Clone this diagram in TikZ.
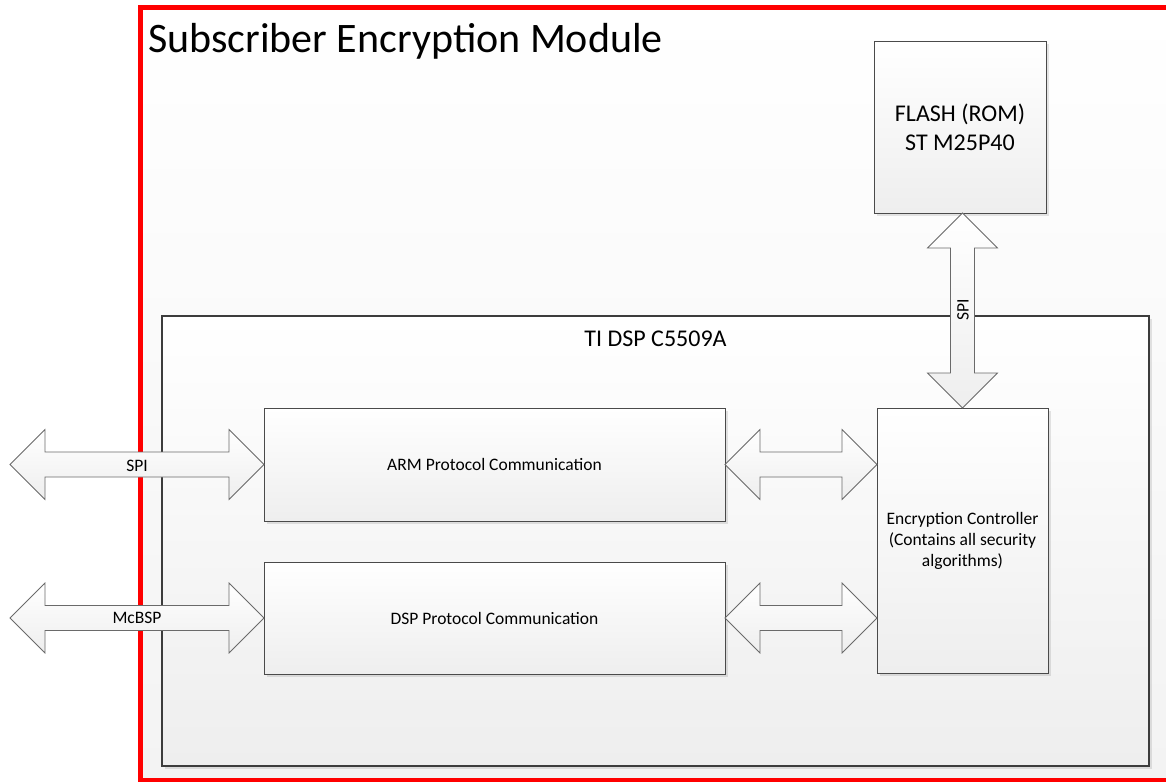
\documentclass[tikz,border=0pt]{standalone}
\usepackage{fontspec}
\setmainfont{Carlito}
\usetikzlibrary{calc,shadows}
\definecolor{boxln}{HTML}{4A4A4A}
\definecolor{dspln}{HTML}{3C3C3C}
\definecolor{arln}{HTML}{6A6A6A}
\definecolor{shadeb}{HTML}{EEEEEE}
\definecolor{outb}{HTML}{F3F3F3}
\tikzset{
 blk/.style={draw=boxln, line width=1pt, top color=white, bottom color=shadeb, inner sep=0pt, outer sep=0pt, align=center,
   font=\fontsize{17.5}{21}\selectfont,
   drop shadow={shadow xshift=2.5pt, shadow yshift=-2.5pt, fill=black, opacity=0.10}},
 fatar/.style={draw=arln, line width=0.8pt, top color=white, bottom color=shadeb},
 arlbl/.style={font=\fontsize{17.5}{21}\selectfont, inner sep=0pt},
}
\newcommand\harrow[2]{%
 \path[fatar] let \p1=(#1), \p2=(#2) in
 (\x1,\y1) -- (\x1+35pt,\y1+35pt) -- (\x1+35pt,\y1+12.5pt) -- (\x2-35pt,\y1+12.5pt) -- (\x2-35pt,\y1+35pt) -- (\x2,\y1)
 -- (\x2-35pt,\y1-35pt) -- (\x2-35pt,\y1-12.5pt) -- (\x1+35pt,\y1-12.5pt) -- (\x1+35pt,\y1-35pt) -- cycle;}
\newcommand\varrow[2]{%
 \path[fatar] let \p1=(#1), \p2=(#2) in
 (\x1,\y1) -- (\x1+35pt,\y1-35pt) -- (\x1+12pt,\y1-35pt) -- (\x1+12pt,\y2+35pt) -- (\x1+35pt,\y2+35pt) -- (\x1,\y2)
 -- (\x1-35pt,\y2+35pt) -- (\x1-12pt,\y2+35pt) -- (\x1-12pt,\y1-35pt) -- (\x1-35pt,\y1-35pt) -- cycle;}
\begin{document}
\begin{tikzpicture}[x=1pt,y=-1pt]
\useasboundingbox (0,0) rectangle (1166,781);
\clip (0,0) rectangle (1166,781);
% module
\node[draw=red, line width=5pt, top color=white, bottom color=outb, inner sep=0pt, outer sep=0pt,
      minimum width=1027.5pt, minimum height=772.5pt] (module) at (654.25,393.75) {};
\node[anchor=base west, inner sep=0pt, font=\fontsize{42}{50}\selectfont] (title) at (148,53) {Subscriber Encryption Module};
% chip
\node[draw=dspln, line width=2.5pt, top color=white, bottom color=shadeb, inner sep=0pt, outer sep=0pt,
      minimum width=987pt, minimum height=450pt,
      drop shadow={shadow xshift=2.5pt, shadow yshift=-2.5pt, fill=black, opacity=0.10}] (chip) at (655.5,541) {};
\node[anchor=base, inner sep=0pt, font=\fontsize{24}{29}\selectfont] (chiplbl) at (655.5,346) {TI DSP C5509A};
% blocks
\node[blk, minimum width=172pt, minimum height=171pt, font=\fontsize{24}{29}\selectfont] (flash) at (960,127.5) {FLASH (ROM)\\ST M25P40};
\node[blk, minimum width=461pt, minimum height=113pt] (arm) at (494.5,464.5) {ARM Protocol Communication};
\node[blk, minimum width=461pt, minimum height=112pt] (dspc) at (494.5,618) {DSP Protocol Communication};
\node[blk, minimum width=171pt, minimum height=265pt] (enc) at (962.5,540.5) {Encryption Controller\\(Contains all security\\algorithms)};
% connectors
\coordinate (spiL) at (10,464.5);
\coordinate (mcbL) at (10,618);
\coordinate (e1) at (arm.east -| enc.west);
\coordinate (e2) at (dspc.east -| enc.west);
\coordinate (ftop) at (enc.north |- flash.south);
\harrow{spiL}{arm.west}
\node[arlbl] (spilbl) at ($(spiL)!0.5!(arm.west)+(0,1.5)$) {SPI};
\harrow{mcbL}{dspc.west}
\node[arlbl] (mcblbl) at ($(mcbL)!0.5!(dspc.west)$) {McBSP};
\harrow{arm.east}{e1}
\harrow{dspc.east}{e2}
\varrow{ftop}{enc.north}
\node[arlbl, rotate=90] (spivlbl) at (963,310) {SPI};
\end{tikzpicture}
\end{document}
